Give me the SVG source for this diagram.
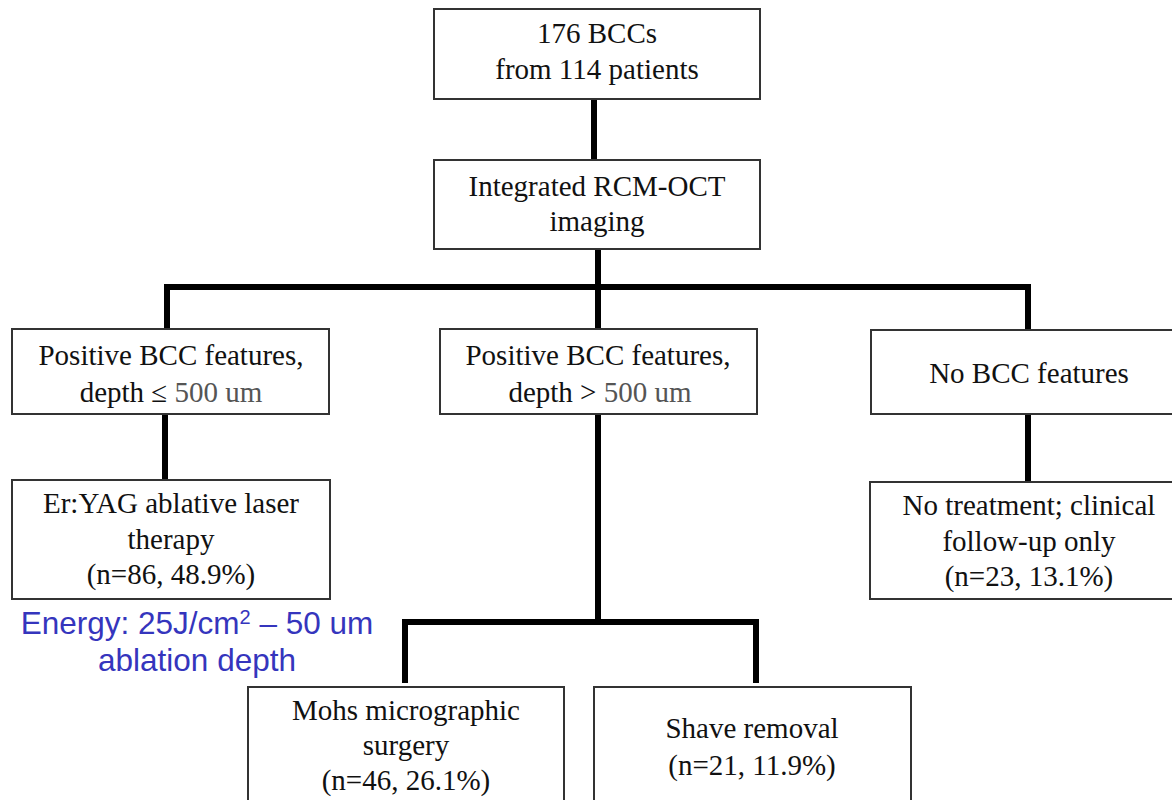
<svg xmlns="http://www.w3.org/2000/svg" width="1172" height="800" viewBox="0 0 1172 800">
<style>
.box{fill:#fff;stroke:#333;stroke-width:2}
.t{font-family:"Liberation Serif","Times New Roman",serif;font-size:29px;fill:#111;text-anchor:middle}
.g{fill:#555}
.c{stroke:#000;stroke-width:6;fill:none;stroke-linecap:butt;stroke-linejoin:miter}
.blue{font-family:"Liberation Sans",Arial,sans-serif;font-size:31.5px;fill:#3535bd;text-anchor:middle}
</style>
<rect width="1172" height="800" fill="#fff"/>
<g id="connectors">
<path class="c" d="M594 99V160"/>
<path class="c" d="M598 249V287"/>
<path class="c" d="M167 333V287H1028V333"/>
<path class="c" d="M598 287V330"/>
<path class="c" d="M165 414V481"/>
<path class="c" d="M1028 414V482"/>
<path class="c" d="M598 414V622"/>
<path class="c" d="M405 683V622H756V683"/>
</g>
<g id="n1"><rect class="box" x="434" y="9" width="326" height="90"/>
<text class="t" x="597" y="43">176 BCCs</text><text class="t" x="597" y="79">from 114 patients</text></g>
<g id="n2"><rect class="box" x="434" y="160" width="326" height="89"/>
<text class="t" x="597" y="196">Integrated RCM-OCT</text><text class="t" x="597" y="231">imaging</text></g>
<g id="n3"><rect class="box" x="12" y="329" width="317" height="85"/>
<text class="t" x="171" y="365">Positive BCC features,</text><text class="t" x="171" y="402">depth ≤ <tspan class="g">500 um</tspan></text></g>
<g id="n4"><rect class="box" x="440" y="329" width="317" height="85"/>
<text class="t" x="598" y="365">Positive BCC features,</text><text class="t" x="600" y="402">depth &gt; <tspan class="g">500 um</tspan></text></g>
<g id="n5"><rect class="box" x="871" y="330" width="310" height="84"/>
<text class="t" x="1029" y="383">No BCC features</text></g>
<g id="n6"><rect class="box" x="12" y="480" width="318" height="119"/>
<text class="t" x="171" y="513">Er:YAG ablative laser</text><text class="t" x="171" y="549">therapy</text><text class="t" x="171" y="584">(n=86, 48.9%)</text></g>
<g id="n7"><rect class="box" x="870" y="482" width="311" height="117"/>
<text class="t" x="1029" y="515">No treatment; clinical</text><text class="t" x="1029" y="551">follow-up only</text><text class="t" x="1029" y="586">(n=23, 13.1%)</text></g>
<g id="n8"><rect class="box" x="248" y="687" width="316" height="130"/>
<text class="t" x="406" y="720">Mohs micrographic</text><text class="t" x="406" y="755">surgery</text><text class="t" x="406" y="790">(n=46, 26.1%)</text></g>
<g id="n9"><rect class="box" x="594" y="687" width="317" height="130"/>
<text class="t" x="752" y="738">Shave removal</text><text class="t" x="752" y="775">(n=21, 11.9%)</text></g>
<g id="note"><text class="blue" x="197" y="634">Energy: 25J/cm<tspan font-size="20" dy="-10">2</tspan><tspan dy="10"> – 50 um</tspan></text>
<text class="blue" x="197" y="671">ablation depth</text></g>
</svg>
